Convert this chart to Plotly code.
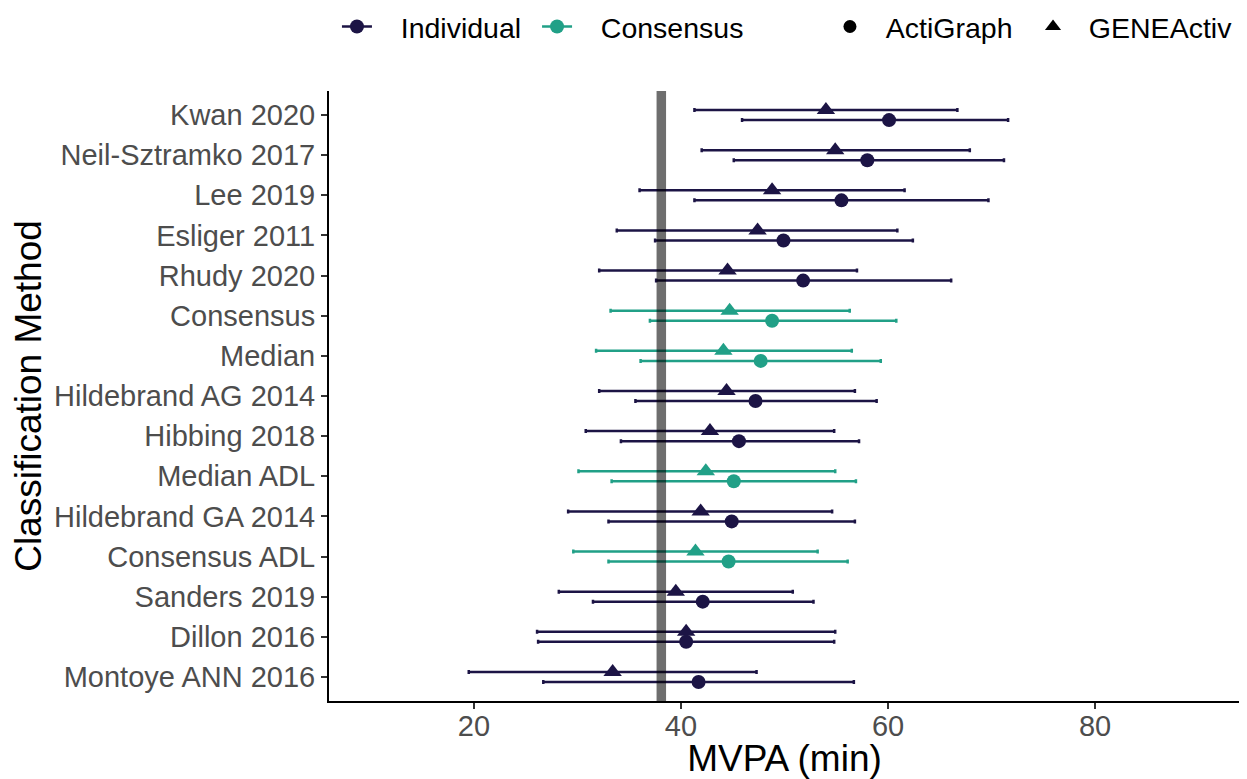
import plotly.graph_objects as go

# ---------------- data (top = first) ----------------
methods = ["Kwan 2020", "Neil-Sztramko 2017", "Lee 2019", "Esliger 2011", "Rhudy 2020",
           "Consensus", "Median", "Hildebrand AG 2014", "Hibbing 2018", "Median ADL",
           "Hildebrand GA 2014", "Consensus ADL", "Sanders 2019", "Dillon 2016", "Montoye ANN 2016"]
method_type = ["Individual", "Individual", "Individual", "Individual", "Individual",
               "Consensus", "Consensus", "Individual", "Individual", "Consensus",
               "Individual", "Consensus", "Individual", "Individual", "Individual"]

# ActiGraph estimates (min) with lower / upper limits
ag_est = [60.1, 58.0, 55.5, 49.9, 51.8, 48.8, 47.7, 47.2, 45.6, 45.1, 44.9, 44.6, 42.1, 40.5, 41.7]
ag_lo = [45.9, 45.1, 41.3, 37.5, 37.6, 37.0, 36.1, 35.6, 34.2, 33.3, 33.0, 33.0, 31.5, 26.2, 26.7]
ag_hi = [71.6, 71.2, 69.7, 62.4, 66.1, 60.8, 59.3, 58.9, 57.2, 56.9, 56.8, 56.1, 52.8, 54.8, 56.7]

# GENEActiv estimates (min) with lower / upper limits
ga_est = [54.0, 54.9, 48.8, 47.4, 44.5, 44.7, 44.1, 44.4, 42.8, 42.4, 41.9, 41.4, 39.5, 40.5, 33.4]
ga_lo = [41.3, 42.0, 36.0, 33.8, 32.1, 33.2, 31.8, 32.1, 30.8, 30.1, 29.1, 29.6, 28.2, 26.1, 19.5]
ga_hi = [66.7, 67.9, 61.6, 60.9, 57.0, 56.3, 56.5, 56.8, 54.8, 54.9, 54.6, 53.2, 50.8, 54.9, 47.3]

reference_mvpa = 38.1
x_ticks = [20, 40, 60, 80]

# ---------------- styling ----------------
type_colors = {"Individual": "#1C1445", "Consensus": "#21A087"}
device_symbols = {"ActiGraph": "circle", "GENEActiv": "triangle-up"}
device_offset = {"ActiGraph": -0.125, "GENEActiv": 0.125}
FONT = "Liberation Sans, Arial, sans-serif"
NB = "\u00a0"

# page body has an 8px margin; size the figure so the plot lands where the reference has it
W, H = 1239, 771

n = len(methods)
row_pos = [n - i for i in range(n)]  # Kwan at top

fig = go.Figure()

device_data = {
    "ActiGraph": (ag_est, ag_lo, ag_hi),
    "GENEActiv": (ga_est, ga_lo, ga_hi),
}

for device in ["ActiGraph", "GENEActiv"]:
    est, lo, hi = device_data[device]
    for mtype in ["Individual", "Consensus"]:
        idx = [i for i in range(n) if method_type[i] == mtype]
        xs = [est[i] for i in idx]
        ys = [row_pos[i] + device_offset[device] for i in idx]
        plus = [hi[i] - est[i] for i in idx]
        minus = [est[i] - lo[i] for i in idx]
        size = 14 if device == "ActiGraph" else 16
        fig.add_trace(go.Scatter(
            x=xs, y=ys, mode="markers", showlegend=False,
            marker=dict(symbol=device_symbols[device], size=size,
                        color=type_colors[mtype], line=dict(width=0)),
            error_x=dict(type="data", symmetric=False, array=plus, arrayminus=minus,
                         color=type_colors[mtype], thickness=2.5, width=2),
            hoverinfo="x+y",
        ))

# legend entries (each in its own legend so they can be placed like the reference)
legend_specs = [
    ("Individual", "legend", 0.2655, dict(mode="lines+markers",
        line=dict(color=type_colors["Individual"], width=2.5),
        marker=dict(symbol="circle", size=14, color=type_colors["Individual"])), 3),
    ("Consensus", "legend2", 0.4270, dict(mode="lines+markers",
        line=dict(color=type_colors["Consensus"], width=2.5),
        marker=dict(symbol="circle", size=14, color=type_colors["Consensus"])), 3),
    ("ActiGraph", "legend3", 0.6634, dict(mode="markers",
        marker=dict(symbol="circle", size=13, color="black")), 2),
    ("GENEActiv", "legend4", 0.8273, dict(mode="markers",
        marker=dict(symbol="triangle-up", size=14, color="black")), 2),
]
legend_layout = {}
for name, lg, xpos, style, pad in legend_specs:
    fig.add_trace(go.Scatter(x=[None], y=[None], name=NB * pad + name, legend=lg, **style))
    legend_layout[lg] = dict(orientation="h", x=xpos, y=1 - 19 / H, xref="container", yref="container",
                             xanchor="left", yanchor="middle",
                             font=dict(size=28.5, color="black", family=FONT),
                             bgcolor="rgba(0,0,0,0)", itemwidth=30)

fig.add_shape(type="line", x0=reference_mvpa, x1=reference_mvpa, xref="x",
              y0=0, y1=1, yref="paper", layer="above",
              line=dict(color="rgba(0,0,0,0.57)", width=9.5))

fig.update_layout(
    width=W, height=H,
    margin=dict(l=321, r=7, t=83, b=78, autoexpand=False),
    paper_bgcolor="white", plot_bgcolor="white",
    font=dict(family=FONT, size=29, color="black"),
    xaxis=dict(
        range=[6, 94], tickvals=x_ticks, ticktext=[str(v) for v in x_ticks],
        showline=True, linecolor="black", linewidth=2, mirror=False,
        ticks="outside", ticklen=6, tickwidth=1.5, tickcolor="#333333",
        ticklabelstandoff=-8,
        tickfont=dict(size=29, color="#4D4D4D", family=FONT),
        showgrid=False, zeroline=False,
        title=dict(text="MVPA (min)", font=dict(size=37, color="black", family=FONT), standoff=6),
    ),
    yaxis=dict(
        range=[0.4, n + 0.6], tickvals=row_pos, ticktext=methods,
        showline=True, linecolor="black", linewidth=2,
        ticks="outside", ticklen=6, tickwidth=1.5, tickcolor="#333333",
        tickfont=dict(size=29, color="#4D4D4D", family=FONT),
        showgrid=False, zeroline=False,
        title=dict(text="Classification Method", font=dict(size=37, color="black", family=FONT), standoff=6),
    ),
    **legend_layout,
)

fig.write_html("out.html")
